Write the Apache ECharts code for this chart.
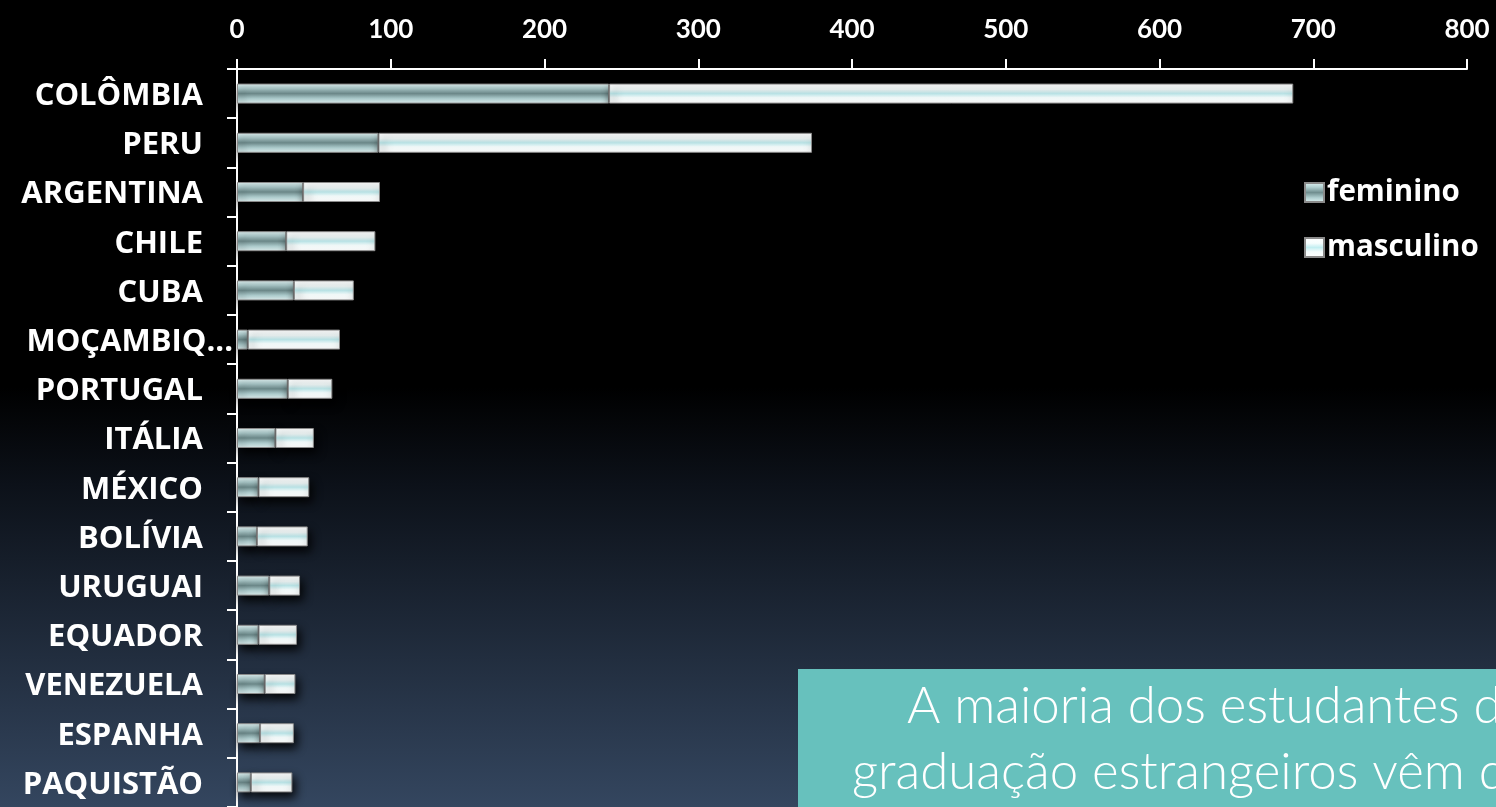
<!DOCTYPE html>
<html>
<head>
<meta charset="utf-8">
<script src="https://cdn.jsdelivr.net/npm/echarts@6/dist/echarts.min.js"></script>
<style>
html,body{margin:0;padding:0;background:#000;}
#chart{width:1496px;height:807px;}
</style>
</head>
<body>
<div id="chart"></div>
<script>
const categories = ['COLÔMBIA','PERU','ARGENTINA','CHILE','CUBA','MOÇAMBIQUE','PORTUGAL','ITÁLIA','MÉXICO','BOLÍVIA','URUGUAI','EQUADOR','VENEZUELA','ESPANHA','PAQUISTÃO'];
const feminino  = [242, 92, 43, 32, 37, 7, 33, 25, 14, 13, 21, 14, 18, 15, 9];
const masculino = [445, 282, 50, 58, 39, 60, 29, 25, 33, 33, 20, 25, 20, 22, 27];
const xTicks = [0, 100, 200, 300, 400, 500, 600, 700, 800];
const seriesNames = ['feminino', 'masculino'];
const boxLines = ['A maioria dos estudantes de', 'graduação estrangeiros vêm da'];

const chart = echarts.init(document.getElementById('chart'));

const femColor = new echarts.graphic.LinearGradient(0, 0, 0, 1, [
  {offset: 0, color: '#e4f5f5'},
  {offset: 0.25, color: '#b0cfd0'},
  {offset: 0.5, color: '#718f90'},
  {offset: 0.75, color: '#b0cfd0'},
  {offset: 1, color: '#e4f5f5'}
]);
const mascColor = new echarts.graphic.LinearGradient(0, 0, 0, 1, [
  {offset: 0, color: '#ffffff'},
  {offset: 0.3, color: '#f5fdfd'},
  {offset: 0.5, color: '#c2eef1'},
  {offset: 0.7, color: '#f5fdfd'},
  {offset: 1, color: '#ffffff'}
]);

const option = {
  backgroundColor: new echarts.graphic.LinearGradient(0, 0, 0, 1, [
    {offset: 0, color: '#000000'},
    {offset: 0.48, color: '#000000'},
    {offset: 0.6, color: '#0c1119'},
    {offset: 1, color: '#34465f'}
  ]),
  animation: false,
  grid: {left: 237, right: 29, top: 69, bottom: -4.5, containLabel: false},
  legend: {
    orient: 'vertical',
    left: 1299,
    top: 171,
    itemWidth: 19,
    itemHeight: 19,
    itemGap: 22,
    icon: 'rect',
    data: seriesNames,
    textStyle: {color: '#ffffff', fontSize: 29.5, fontWeight: 'bold', fontFamily: 'Open Sans', padding: [0,0,0,-2], lineHeight: 33}
  },
  xAxis: {
    type: 'value',
    position: 'top',
    min: xTicks[0],
    max: xTicks[xTicks.length - 1],
    interval: 100,
    splitLine: {show: false},
    axisLine: {show: true, lineStyle: {color: '#ffffff', width: 2}},
    axisTick: {show: true, length: 10, lineStyle: {color: '#ffffff', width: 2}},
    axisLabel: {color: '#ffffff', fontSize: 26, fontWeight: 'bold', fontFamily: 'Lato', margin: 26}
  },
  yAxis: {
    type: 'category',
    inverse: true,
    data: categories,
    axisLine: {show: true, lineStyle: {color: '#ffffff', width: 2}},
    axisTick: {show: true, length: 10, lineStyle: {color: '#ffffff', width: 2}},
    axisLabel: {
      color: '#ffffff', fontSize: 31, fontWeight: 'bold', fontFamily: 'Open Sans', margin: 4,
      formatter: function (v) {
        if (v.length > 9) return '{t|' + v.slice(0, 8) + '...}';
        return '{n|' + v + '}';
      },
      rich: {
        n: {color: '#ffffff', fontSize: 31, fontWeight: 'bold', fontFamily: 'Open Sans', padding: [5, 30, 0, 0]},
        t: {color: '#ffffff', fontSize: 31, fontWeight: 'bold', fontFamily: 'Open Sans', padding: [5, 0, 0, 0]}
      }
    }
  },
  series: [
    {
      name: seriesNames[0], type: 'bar', stack: 'total', barWidth: 20, data: feminino,
      itemStyle: {color: femColor, borderColor: '#8a8a8a', borderWidth: 1,
        shadowBlur: 10, shadowColor: 'rgba(0,0,0,0.9)', shadowOffsetY: 5, shadowOffsetX: 3}
    },
    {
      name: seriesNames[1], type: 'bar', stack: 'total', barWidth: 20, data: masculino,
      itemStyle: {color: mascColor, borderColor: '#8a8a8a', borderWidth: 1,
        shadowBlur: 10, shadowColor: 'rgba(0,0,0,0.9)', shadowOffsetY: 5, shadowOffsetX: 3}
    }
  ],
  graphic: [
    {type: 'rect', left: 798, top: 669, shape: {width: 720, height: 160}, style: {fill: '#67c1bd'}, z: 100},
    {type: 'text', left: 907, top: 681, z: 101, style: {text: boxLines[0], fill: '#ffffff', font: '300 51px Lato'}},
    {type: 'text', left: 852, top: 747, z: 101, style: {text: boxLines[1], fill: '#ffffff', font: '300 51px Lato'}}
  ]
};
chart.setOption(option);
</script>
</body>
</html>
